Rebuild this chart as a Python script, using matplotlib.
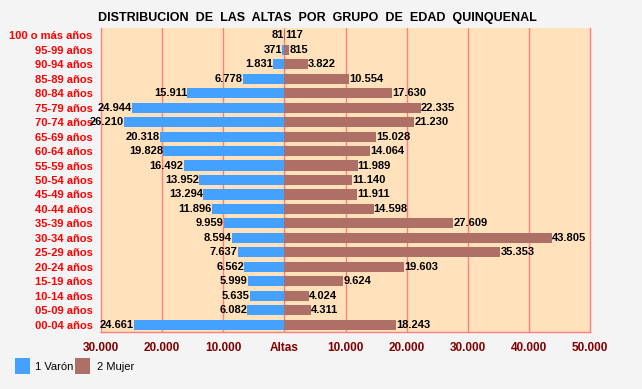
import matplotlib
matplotlib.use("Agg")
import matplotlib.pyplot as plt
from matplotlib.patches import Rectangle

categories = ["100 o más años", "95-99 años", "90-94 años", "85-89 años", "80-84 años",
              "75-79 años", "70-74 años", "65-69 años", "60-64 años", "55-59 años",
              "50-54 años", "45-49 años", "40-44 años", "35-39 años", "30-34 años",
              "25-29 años", "20-24 años", "15-19 años", "10-14 años", "05-09 años",
              "00-04 años"]
varon = [81, 371, 1831, 6778, 15911, 24944, 26210, 20318, 19828, 16492,
         13952, 13294, 11896, 9959, 8594, 7637, 6562, 5999, 5635, 6082, 24661]
mujer = [117, 815, 3822, 10554, 17630, 22335, 21230, 15028, 14064, 11989,
         11140, 11911, 14598, 27609, 43805, 35353, 19603, 9624, 4024, 4311, 18243]
tick_vals = [-30000, -20000, -10000, 0, 10000, 20000, 30000, 40000, 50000]
tick_labels = ["30.000", "20.000", "10.000", "Altas", "10.000", "20.000", "30.000", "40.000", "50.000"]
series_names = ["1 Varón", "2 Mujer"]
title = "DISTRIBUCION  DE  LAS  ALTAS  POR  GRUPO  DE  EDAD  QUINQUENAL"

BLUE = "#45a1ff"
BROWN = "#ae7066"
GRID = "#ff7f7f"
W, H = 642, 389

plt.rcParams['font.family'] = ['Liberation Sans', 'DejaVu Sans']
fig = plt.figure(figsize=(W / 100, H / 100), dpi=100, facecolor="#f4f4f4")
ax = fig.add_axes([101 / W, (H - 332) / H, 489 / W, 304 / H])
ax.set_facecolor("#ffe2bb")

y = list(range(len(categories)))
ax.barh(y, [-v for v in varon], height=0.7, color=BLUE, zorder=3)
ax.barh(y, mujer, height=0.7, color=BROWN, zorder=3)

def fmt(v):
    return f"{v:,}".replace(",", ".")

for i, (v, m) in enumerate(zip(varon, mujer)):
    ax.annotate(fmt(v), (-v, i), xytext=(0, 0), textcoords="offset points",
                ha="right", va="center", fontsize=8, fontweight="bold", zorder=4)
    ax.annotate(fmt(m), (m, i), xytext=(0, 0), textcoords="offset points",
                ha="left", va="center", fontsize=8, fontweight="bold", zorder=4)

ax.set_xlim(-30000, 50000)
ax.set_ylim(len(categories) - 0.5, -0.5)
ax.set_yticks(y)
ax.set_yticklabels(categories, color="#ff0000", fontweight="bold", fontsize=8)
ax.set_xticks(tick_vals)
ax.set_xticklabels(tick_labels, color="#800000", fontweight="bold", fontsize=8.5)
ax.tick_params(axis="both", length=0)
ax.tick_params(axis="y", pad=6)
ax.tick_params(axis="x", pad=7)
for v in tick_vals[1:-1]:
    ax.axvline(v, color=GRID, lw=1, zorder=2)
for s in ["left", "right", "bottom"]:
    ax.spines[s].set_color(GRID)
    ax.spines[s].set_linewidth(1)
ax.spines["top"].set_visible(False)

fig.text(317 / W, 1 - 18 / H, title, ha="center", va="center",
         fontsize=9, fontweight="bold", color="#000000")

# legend
fig.patches.append(Rectangle((15 / W, 1 - 374 / H), 15 / W, 16 / H,
                             transform=fig.transFigure, facecolor=BLUE, edgecolor="none"))
fig.text(35 / W, 1 - 367 / H, series_names[0], ha="left", va="center", fontsize=8)
fig.patches.append(Rectangle((75 / W, 1 - 374 / H), 15 / W, 16 / H,
                             transform=fig.transFigure, facecolor=BROWN, edgecolor="none"))
fig.text(97 / W, 1 - 367 / H, series_names[1], ha="left", va="center", fontsize=8)

fig.savefig("out.png", dpi=100, facecolor=fig.get_facecolor())
